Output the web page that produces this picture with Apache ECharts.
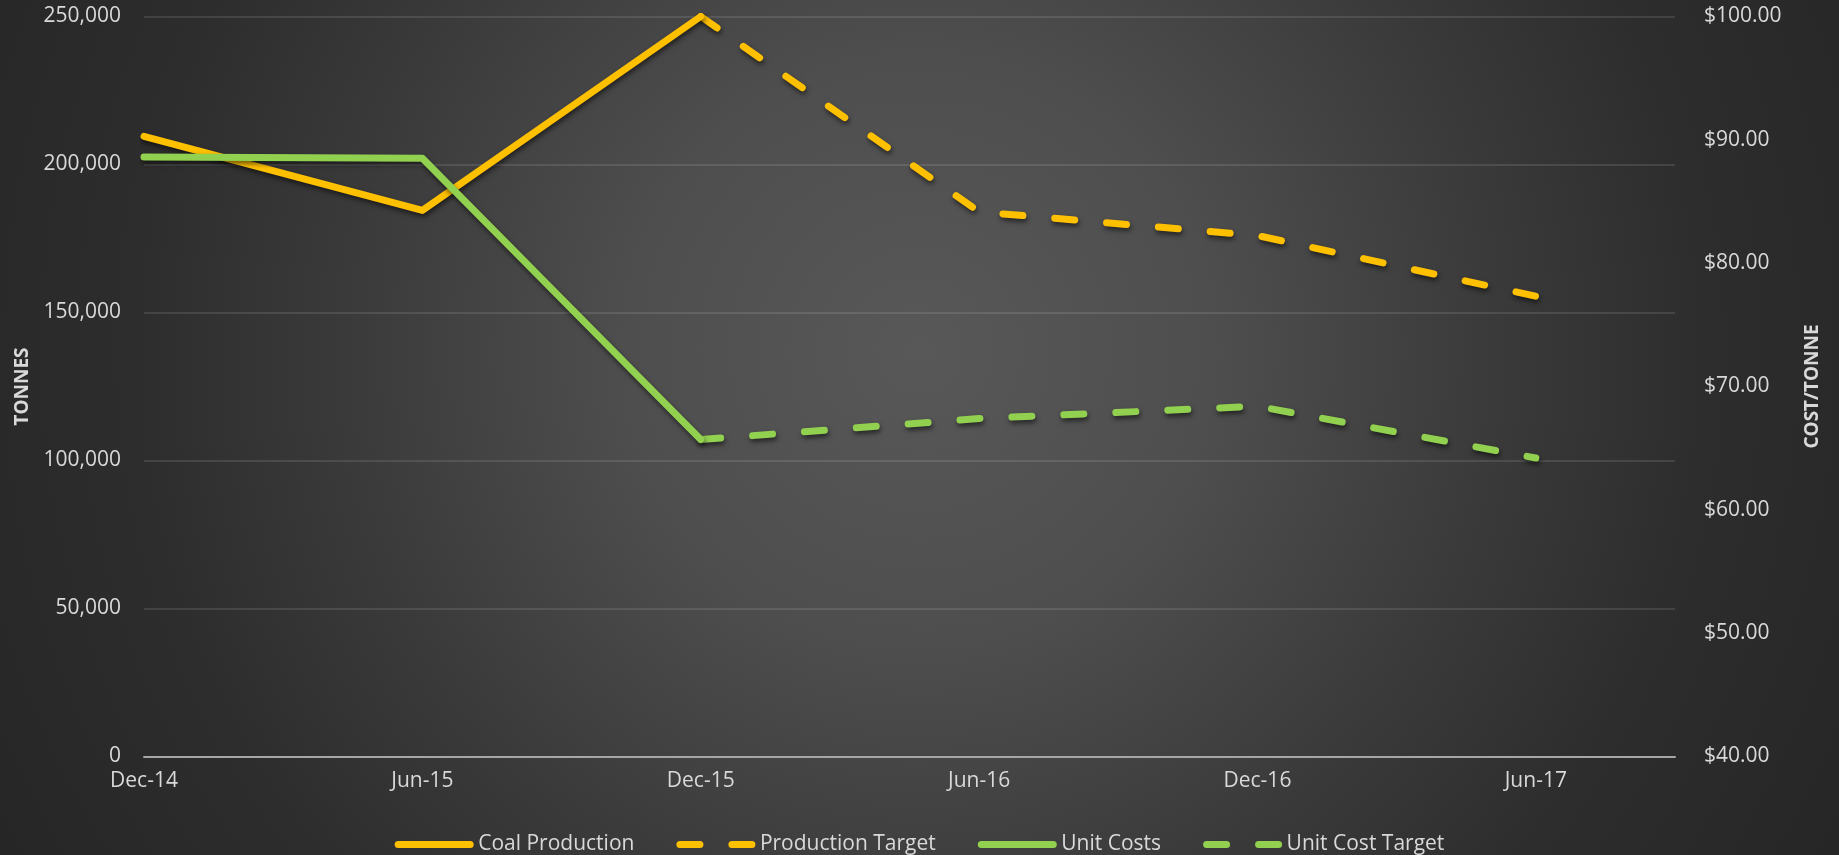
<!DOCTYPE html>
<html>
<head>
<meta charset="utf-8">
<script src="https://cdn.jsdelivr.net/npm/echarts@6/dist/echarts.min.js"></script>
<style>
html,body{margin:0;padding:0;width:1839px;height:855px;overflow:hidden;}
body{background:radial-gradient(circle at 50% 41%, #585858 0%, #4e4e4e 28%, #3a3a3a 55%, #2d2d2d 75%, #262626 100%);}
#chart{width:1839px;height:855px;}
</style>
</head>
<body>
<div id="chart"></div>
<script>
const categories = ['Dec-14', 'Jun-15', 'Dec-15', 'Jun-16', 'Dec-16', 'Jun-17'];
const coalProduction = [209500, 184500, 250000, null, null, null];
const productionTarget = [null, null, 250000, 184000, 176000, 155500];
const unitCosts = [88.6, 88.5, 65.7, null, null, null];
const unitCostTarget = [null, null, 65.7, 67.4, 68.4, 64.2];
const leftTicks = { min: 0, max: 250000, interval: 50000 };
const rightTicks = { min: 40, max: 100, interval: 10 };

const YELLOW = '#FFC000';
const GREEN = '#92D050';
const LABEL = '#D9D9D9';
const FONT = '"Open Sans", "Noto Sans", sans-serif';

function pairs(arr) {
  const out = [];
  arr.forEach((v, i) => { if (v !== null) out.push([i, v]); });
  return out;
}
const shadow = { shadowColor: 'rgba(0,0,0,0.55)', shadowBlur: 5, shadowOffsetY: 3, shadowOffsetX: 1 };
function line(name, arr, color, dashed, yIdx) {
  return {
    name, type: 'line', yAxisIndex: yIdx, data: pairs(arr),
    symbol: 'none', showSymbol: false, animation: false,
    itemStyle: { color },
    lineStyle: Object.assign({ color, width: 7, cap: 'round', join: 'round',
      type: dashed ? [20, 32] : 'solid' }, shadow),
    z: dashed ? 3 : 4
  };
}

const chart = echarts.init(document.getElementById('chart'), null, { renderer: 'canvas' });
chart.setOption({
  backgroundColor: 'transparent',
  animation: false,
  textStyle: { fontFamily: FONT },
  grid: { left: 144, right: 164, top: 16.5, bottom: 98.5 },
  legend: {
    left: 'center', top: 829,
    itemWidth: 72, itemHeight: 21, itemGap: 42,
    textStyle: { color: LABEL, fontSize: 21, fontFamily: FONT, padding: [0, 0, 0, 3] },
    lineStyle: { width: 7 },
    itemStyle: { color: 'transparent', borderWidth: 0, opacity: 0 },
    data: ['Coal Production', 'Production Target', 'Unit Costs', 'Unit Cost Target']
  },
  xAxis: {
    type: 'value', min: 0, max: 5.5, interval: 1,
    axisLine: { show: true, onZero: true, lineStyle: { color: '#A6A6A6', width: 2 } },
    axisTick: { show: false },
    splitLine: { show: false },
    axisLabel: { color: LABEL, fontSize: 21, fontFamily: FONT, margin: 14,
      formatter: v => categories[v] || '' }
  },
  yAxis: [
    {
      type: 'value', min: leftTicks.min, max: leftTicks.max, interval: leftTicks.interval,
      name: 'TONNES', nameLocation: 'middle', nameRotate: 90, nameGap: 112,
      nameTextStyle: { color: LABEL, fontSize: 19, fontWeight: 'bold', fontFamily: FONT },
      axisLine: { show: false }, axisTick: { show: false },
      splitLine: { show: true, lineStyle: { color: 'rgba(255,255,255,0.14)', width: 1.5 } },
      axisLabel: { color: LABEL, fontSize: 21, fontFamily: FONT, margin: 23,
        formatter: v => v.toLocaleString('en-US') }
    },
    {
      type: 'value', min: rightTicks.min, max: rightTicks.max, interval: rightTicks.interval,
      position: 'right',
      name: 'COST/TONNE', nameLocation: 'middle', nameRotate: 90, nameGap: 128,
      nameTextStyle: { color: LABEL, fontSize: 19, fontWeight: 'bold', fontFamily: FONT },
      axisLine: { show: false }, axisTick: { show: false },
      splitLine: { show: false },
      axisLabel: { color: LABEL, fontSize: 21, fontFamily: FONT, margin: 29,
        formatter: v => '$' + v.toFixed(2) }
    }
  ],
  series: [
    line('Coal Production', coalProduction, YELLOW, false, 0),
    line('Production Target', productionTarget, YELLOW, true, 0),
    line('Unit Costs', unitCosts, GREEN, false, 1),
    line('Unit Cost Target', unitCostTarget, GREEN, true, 1)
  ]
});
</script>
</body>
</html>
